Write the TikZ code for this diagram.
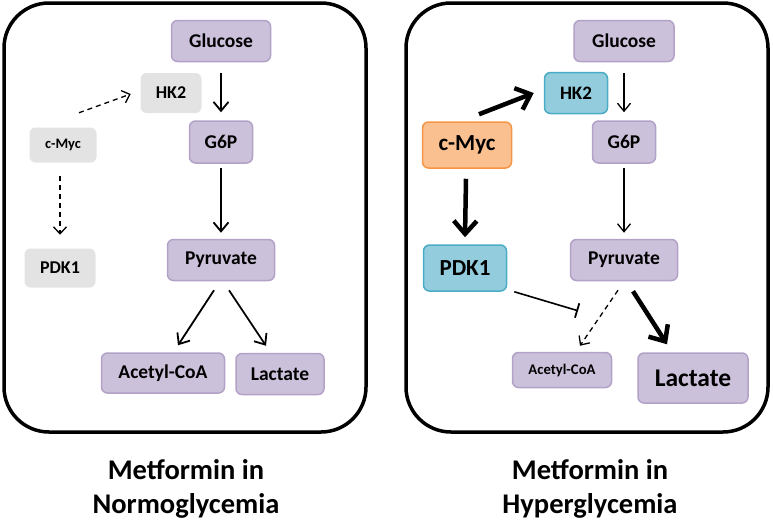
\documentclass[tikz,border=0pt]{standalone}
\usepackage{fontspec}
\setmainfont{Carlito}
\usetikzlibrary{arrows.meta}
\definecolor{metF}{HTML}{CCC1DA}
\definecolor{metD}{HTML}{B3A2C7}
\definecolor{grayF}{HTML}{E3E3E3}
\definecolor{blueF}{HTML}{93CDDD}
\definecolor{blueD}{HTML}{4BACC6}
\definecolor{orF}{HTML}{FAC090}
\definecolor{orD}{HTML}{F79646}
\tikzset{
  box/.style={rounded corners=6pt, inner sep=0pt, line width=1.5pt},
  sz/.style={font=\bfseries\fontsize{#1}{#1}\selectfont},
  wh/.style 2 args={minimum width=#1pt, minimum height=#2pt},
  met/.style={box, draw=metD, fill=metF},
  grayb/.style={box, fill=grayF},
  blueb/.style={box, draw=blueD, fill=blueF},
  orb/.style={box, draw=orD, fill=orF},
  frame/.style={line width=3.5pt, rounded corners=45pt},
  arr/.style={line width=1.8pt, -{Straight Barb[length=9pt,width=15pt]}},
  thinarr/.style={line width=1.3pt, -{Straight Barb[length=8pt,width=13pt]}},
  dasharr/.style={line width=1.3pt, dash pattern=on 5pt off 4pt, -{Straight Barb[length=7pt,width=13pt]}},
  thickarr/.style={line width=4.5pt, -{Straight Barb[length=13pt,width=23pt]}},
  inhib/.style={line width=1.6pt, -{Bar[width=15pt,line width=1.8pt]}},
  title/.style={align=center, inner sep=0pt, font=\bfseries\fontsize{28.5}{34}\selectfont}
}
\begin{document}
\begin{tikzpicture}[x=1pt,y=-1pt]
\useasboundingbox (0,0) rectangle (773,520);
% frames
\draw[frame] (4,3) rectangle (366,432);
\draw[frame] (406,3) rectangle (768,432);

% ---------- left panel ----------
\node[met, wh={99}{41}, sz=19.5] (glcL) at (221,41) {Glucose};
\node[grayb, wh={61}{40}, sz=18] (hkL) at (171,93) {HK2};
\node[met, wh={63}{42}, sz=19.5] (g6pL) at (221,142) {G6P};
\node[grayb, wh={67}{35}, sz=14.5] (cmL) at (63,145) {c-Myc};
\node[grayb, wh={71}{39}, sz=18] (pdkL) at (60,268) {PDK1};
\node[met, wh={107}{41}, sz=19.5] (pyrL) at (221,260) {Pyruvate};
\node[met, wh={123}{40}, sz=19.5] (accL) at (163,373) {Acetyl-CoA};
\node[met, wh={88}{41}, sz=19.5] (lacL) at (280,374) {Lactate};

\draw[arr, shorten <=11pt, shorten >=8pt] (glcL.south) -- (g6pL.north);
\draw[arr, shorten <=4pt, shorten >=6pt] (g6pL.south) -- (pyrL.north);
\draw[arr] ([xshift=-7pt,yshift=-9pt]pyrL.south) -- ([xshift=15pt,yshift=7pt]accL.north);
\draw[arr] ([xshift=8pt,yshift=-9pt]pyrL.south) -- ([xshift=-14pt,yshift=7pt]lacL.north);
\draw[dasharr] ([xshift=16pt,yshift=14pt]cmL.north) -- ([xshift=-9pt,yshift=-1pt]hkL.west);
\draw[dasharr] ([xshift=-3pt,yshift=-13pt]cmL.south) -- ([yshift=13pt]pdkL.north);

% ---------- right panel ----------
\node[met, wh={100}{41}, sz=19.5] (glcR) at (624,41) {Glucose};
\node[blueb, wh={63}{41}, sz=19] (hkR) at (576,93) {HK2};
\node[met, wh={63}{42}, sz=19.5] (g6pR) at (624,142) {G6P};
\node[orb, wh={89}{46}, sz=23] (cmR) at (467,145) {c-Myc};
\node[blueb, wh={83}{46}, sz=23] (pdkR) at (465,268) {PDK1};
\node[met, wh={107}{41}, sz=19.5] (pyrR) at (624,260) {Pyruvate};
\node[met, wh={99}{35}, sz=14.7] (accR) at (562,370) {Acetyl-CoA};
\node[met, wh={110}{50}, sz=25.5] (lacR) at (693,378) {Lactate};

\draw[thinarr, shorten <=11pt, shorten >=8pt] (glcR.south) -- (g6pR.north);
\draw[thinarr, shorten <=4pt, shorten >=6pt] (g6pR.south) -- (pyrR.north);
\draw[thickarr] ([xshift=12pt,yshift=7pt]cmR.north) -- ([xshift=-10pt]hkR.west);
\draw[thickarr] ([xshift=-1pt,yshift=-10pt]cmR.south) -- ([yshift=7pt]pdkR.north);
\draw[inhib] ([xshift=7pt]pdkR.south east) -- ([xshift=16pt,yshift=41pt]accR.north);
\draw[dasharr] ([xshift=-6pt,yshift=-9pt]pyrR.south) -- ([xshift=18pt,yshift=6pt]accR.north);
\draw[thickarr] ([xshift=9pt,yshift=-10pt]pyrR.south) -- ([xshift=-26pt,yshift=8pt]lacR.north);

% titles
\node[title] (tL) at (186,489) {Metformin in\\Normoglycemia};
\node[title] (tR) at (590,489) {Metformin in\\Hyperglycemia};
\end{tikzpicture}
\end{document}
